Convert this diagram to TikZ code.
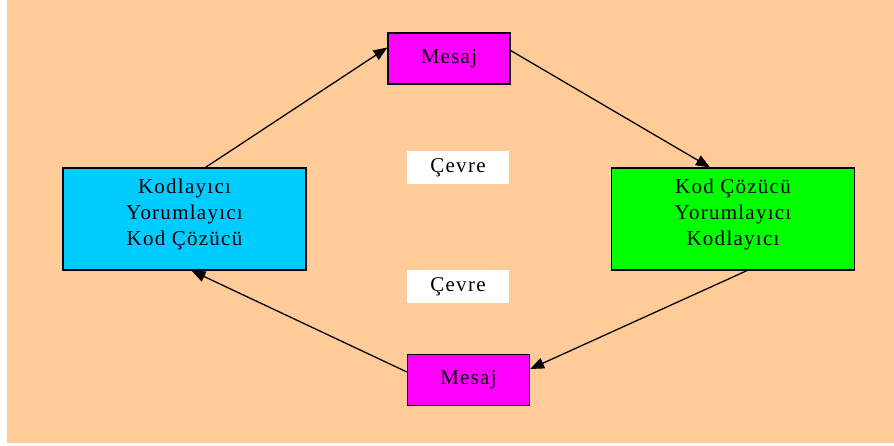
\documentclass[tikz,border=0pt]{standalone}
\usepackage{fontspec}
\setmainfont{Liberation Serif}[LetterSpace=6]
\usetikzlibrary{arrows.meta,positioning}

\definecolor{peach}{HTML}{FFCC99}
\definecolor{camgobegi}{HTML}{00CCFF}
\definecolor{yesil}{HTML}{00FF00}
\definecolor{eflatun}{HTML}{FF00FF}

\tikzset{
    kutu/.style={draw=black,line width=1.2pt,inner sep=0pt,align=center,
        font=\fontsize{21}{26}\selectfont},
    mesajkutu/.style={kutu,fill=eflatun,minimum width=122pt,minimum height=51pt},
    buyukkutu/.style={kutu,minimum width=243pt,minimum height=102pt,text depth=14pt},
    cevrekutu/.style={fill=white,inner sep=0pt,minimum width=102pt,minimum height=33pt,
        font=\fontsize{21}{26}\selectfont},
    ok/.style={line width=1.3pt,-{Triangle[length=14pt,width=11pt]}}
}

\begin{document}
\begin{tikzpicture}[x=1pt,y=-1pt]
    \useasboundingbox (0,0) rectangle (894,446);
    \fill[peach] (7,0) rectangle (894,443);

    \node[mesajkutu] (mesajust) at (449,58.5) {Mesaj};
    \node[mesajkutu] (mesajalt) at (468.5,380) {Mesaj};
    \node[buyukkutu,fill=camgobegi] (kaynak) at (184.5,219)
        {Kodlayıcı\\Yorumlayıcı\\Kod Çözücü};
    \node[buyukkutu,fill=yesil] (alici) at (733,219)
        {Kod Çözücü\\Yorumlayıcı\\Kodlayıcı};
    \node[cevrekutu] (cevreust) at (458,167.5) {Çevre};
    \node[cevrekutu] (cevrealt) at (458,286.5) {Çevre};

    \draw[ok] ([xshift=21pt]kaynak.north) -- ([yshift=11pt]mesajust.west);
    \draw[ok] ([yshift=8pt]mesajust.east) -- ([xshift=-23pt]alici.north);
    \draw[ok] ([xshift=14pt]alici.south) -- ([yshift=11pt]mesajalt.east);
    \draw[ok] ([yshift=8pt]mesajalt.west) -- ([xshift=7pt]kaynak.south);
\end{tikzpicture}
\end{document}
